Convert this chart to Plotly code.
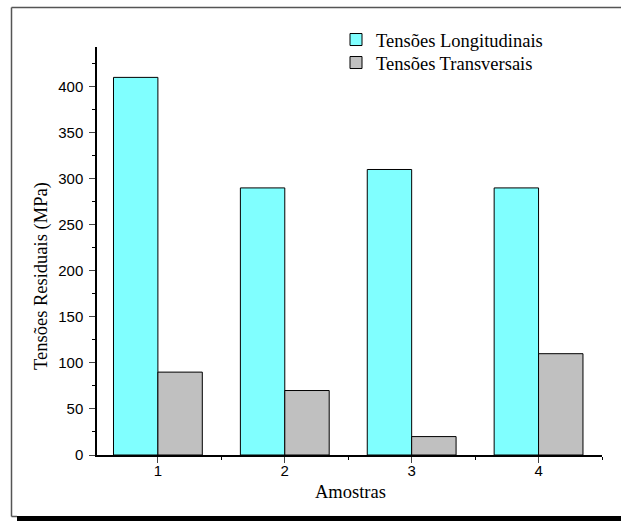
import plotly.graph_objects as go

categories = [1, 2, 3, 4]
longitudinais = [410, 290, 310, 290]
transversais = [90, 70, 20, 110]
series_names = ["Tensões Longitudinais", "Tensões Transversais"]
y_ticks = [0, 50, 100, 150, 200, 250, 300, 350, 400]
x_title = "Amostras"
y_title = "Tensões Residuais (MPa)"

W, H = 621, 521
L, R, T, B = 97, 19, 47, 66
pw, ph = W - L - R, H - T - B

def px(x):
    return (x - L) / pw

def py(y):
    return (H - B - y) / ph

fig = go.Figure()
fig.add_trace(go.Bar(x=categories, y=longitudinais, name=series_names[0], legend="legend",
                     showlegend=True,
                     marker=dict(color="#80FFFF", line=dict(color="black", width=1))))
fig.add_trace(go.Bar(x=categories, y=transversais, name=series_names[1], legend="legend2",
                     showlegend=True,
                     marker=dict(color="#C0C0C0", line=dict(color="black", width=1))))

leg_common = dict(xanchor="left", yanchor="middle", font=dict(family="Liberation Serif", size=18.5),
                  bgcolor="rgba(0,0,0,0)")

fig.update_layout(
    width=W, height=H,
    showlegend=True,
    margin=dict(l=L, r=R, t=T, b=B, autoexpand=False),
    paper_bgcolor="white", plot_bgcolor="white",
    barmode="group", bargap=0.3, bargroupgap=0,
    font=dict(family="Liberation Serif", color="black"),
    legend=dict(x=px(336), y=py(40), **leg_common),
    legend2=dict(x=px(336), y=py(63), **leg_common),
    xaxis=dict(range=[0.52, 4.5], tickvals=categories, ticks="outside", ticklen=6,
               tickwidth=1, showline=True, linecolor="black", linewidth=1.5,
               showgrid=False, zeroline=False, ticklabelstandoff=-5,
               tickfont=dict(family="Liberation Sans", size=15),
               minor=dict(tickvals=[1.5, 2.5, 3.5, 4.5], ticks="outside", ticklen=3, tickcolor="black")),
    yaxis=dict(range=[0, 443], tickvals=y_ticks, ticks="outside", ticklen=6, tickwidth=1,
               showline=True, linecolor="black", linewidth=1.5,
               showgrid=False, zeroline=False, ticklabelstandoff=3,
               tickfont=dict(family="Liberation Sans", size=15),
               minor=dict(tickvals=[25, 75, 125, 175, 225, 275, 325, 375, 425], ticks="outside",
                          ticklen=3, tickcolor="black")),
)

fig.add_annotation(text=x_title, xref="paper", yref="paper", x=px(350), y=py(492),
                   xanchor="center", yanchor="middle", showarrow=False,
                   font=dict(family="Liberation Serif", size=18.5))
fig.add_annotation(text=y_title, xref="paper", yref="paper", x=px(41), y=py(276),
                   xanchor="center", yanchor="middle", showarrow=False, textangle=-90,
                   font=dict(family="Liberation Serif", size=18.5))

frame = dict(color="#555555", width=1.5)
fig.add_shape(type="line", xref="paper", yref="paper",
              x0=px(11.5), x1=px(700), y0=py(7.5), y1=py(7.5), line=frame, layer="below")
fig.add_shape(type="line", xref="paper", yref="paper",
              x0=px(11.5), x1=px(11.5), y0=py(7.5), y1=py(516.5), line=frame, layer="below")
fig.add_shape(type="line", xref="paper", yref="paper",
              x0=px(11.5), x1=px(17), y0=py(516.5), y1=py(516.5), line=frame, layer="below")
fig.add_shape(type="rect", xref="paper", yref="paper",
              x0=px(17), x1=px(700), y0=py(522), y1=py(516),
              line=dict(width=0), fillcolor="black", layer="above")

fig.write_html("out.html", config={"displayModeBar": False},
               post_script="document.body.style.margin='0';document.body.style.overflow='hidden';"
                           "document.documentElement.style.overflow='hidden';")
